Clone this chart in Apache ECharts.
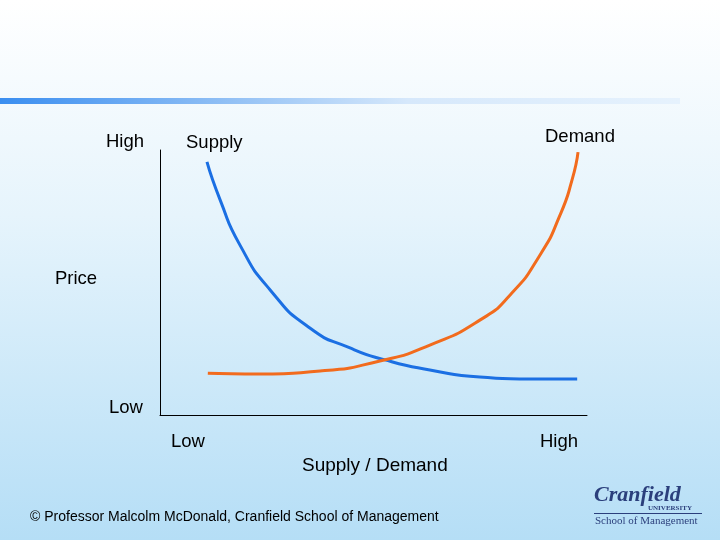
<!DOCTYPE html>
<html><head><meta charset="utf-8">
<script src="https://cdn.jsdelivr.net/npm/echarts@6/dist/echarts.min.js"></script>
<style>html,body{margin:0;padding:0;}#c{width:720px;height:540px;background:linear-gradient(to bottom,#ffffff 0%,#e6f4fc 40%,#b5def6 100%);}</style>
</head><body><div id="c"></div>
<script>
const supplyX=[1.10,1.41,1.87,2.58,3.51,4.45,5.27,6.32,7.49,8.67,9.77];
const supplyY=[9.55,8.11,6.42,4.72,3.28,2.53,2.08,1.70,1.43,1.36,1.36];
const demandX=[1.12,2.34,3.75,5.15,6.32,7.49,8.20,8.90,9.37,9.65,9.79];
const demandY=[1.58,1.55,1.66,2.04,2.64,3.58,4.53,6.04,7.55,8.87,9.92];
const axisLabels={yHigh:'High',yLow:'Low',yName:'Price',xLow:'Low',xHigh:'High',xName:'Supply / Demand'};
const chart=echarts.init(document.getElementById('c'));
const f='Liberation Sans, Arial, sans-serif';
chart.setOption({
 backgroundColor:'transparent',
 grid:{left:160,right:133,top:150,bottom:125},
 xAxis:{type:'value',min:0,max:10,axisLine:{lineStyle:{color:'#000',width:1}},axisTick:{show:false},axisLabel:{show:false},splitLine:{show:false}},
 yAxis:{type:'value',min:0,max:10,axisLine:{show:true,lineStyle:{color:'#000',width:1}},axisTick:{show:false},axisLabel:{show:false},splitLine:{show:false}},
 series:[
  {type:'line',smooth:0.6,symbol:'none',data:supplyX.map((x,i)=>[x,supplyY[i]]),lineStyle:{color:'#1b6fe3',width:3}},
  {type:'line',smooth:0.6,symbol:'none',data:demandX.map((x,i)=>[x,demandY[i]]),lineStyle:{color:'#f26b1d',width:3}}
 ],
 graphic:[
  {type:'rect',shape:{x:0,y:98,width:680,height:6},style:{fill:new echarts.graphic.LinearGradient(0,0,1,0,[{offset:0,color:'#3a8ef0'},{offset:0.35,color:'#95c2f5'},{offset:0.6,color:'#d6e8fb'},{offset:1,color:'#e6f2fd'}])}},
  {type:'text',x:106,y:132,style:{text:axisLabels.yHigh,font:'18.5px '+f,fill:'#000'}},
  {type:'text',x:186,y:133,style:{text:'Supply',font:'18.5px '+f,fill:'#000'}},
  {type:'text',x:545,y:127,style:{text:'Demand',font:'18.5px '+f,fill:'#000'}},
  {type:'text',x:55,y:269,style:{text:axisLabels.yName,font:'18.5px '+f,fill:'#000'}},
  {type:'text',x:109,y:398,style:{text:axisLabels.yLow,font:'18.5px '+f,fill:'#000'}},
  {type:'text',x:171,y:432,style:{text:axisLabels.xLow,font:'18.5px '+f,fill:'#000'}},
  {type:'text',x:540,y:432,style:{text:axisLabels.xHigh,font:'18.5px '+f,fill:'#000'}},
  {type:'text',x:302,y:456,style:{text:axisLabels.xName,font:'19px '+f,fill:'#000'}},
  {type:'text',x:30,y:510,style:{text:'© Professor Malcolm McDonald, Cranfield School of Management',font:'14px '+f,fill:'#000'}},
  {type:'text',x:594,y:484,style:{text:'Cranfield',font:'bold italic 22px Liberation Serif, serif',fill:'#2b3f7c'}},
  {type:'text',x:648,y:505,style:{text:'UNIVERSITY',font:'bold 7px Liberation Serif, serif',fill:'#2b3f7c'}},
  {type:'rect',shape:{x:594,y:513,width:108,height:1},style:{fill:'#2b3f7c'}},
  {type:'text',x:595,y:516,style:{text:'School of Management',font:'11px Liberation Serif, serif',fill:'#2b3f7c'}}
 ]
});
</script></body></html>
